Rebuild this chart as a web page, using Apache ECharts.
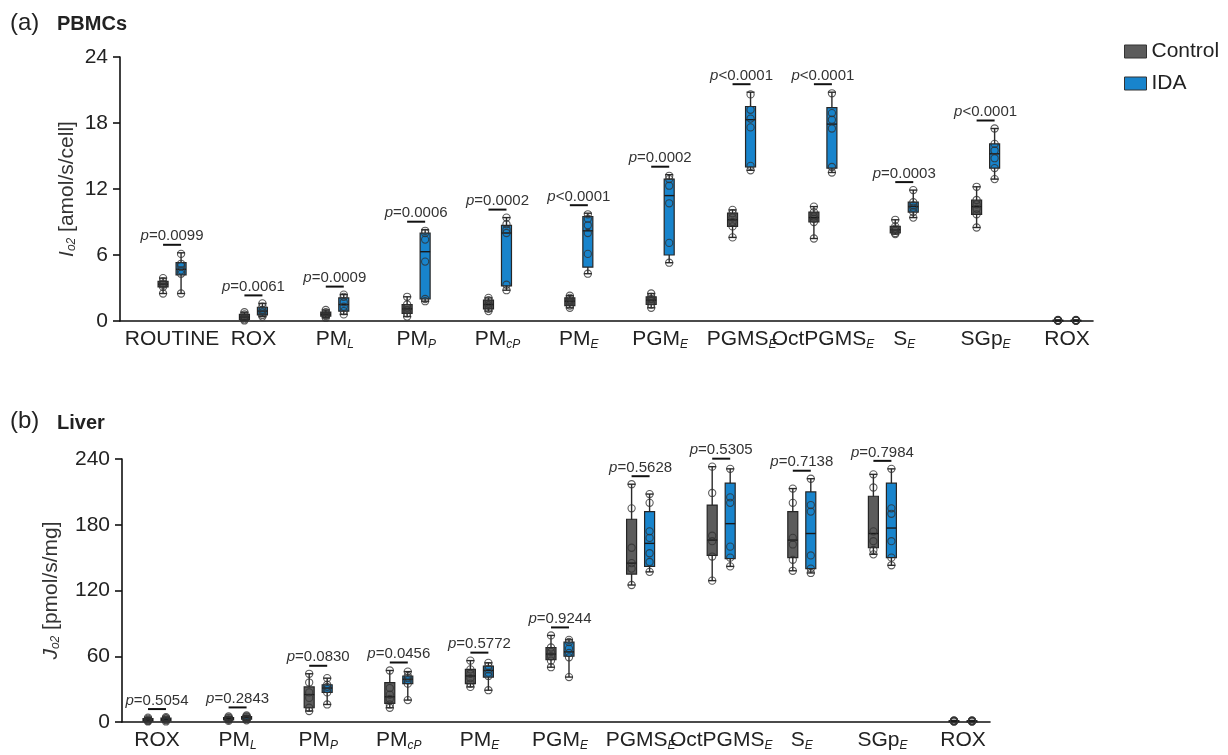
<!DOCTYPE html>
<html>
<head>
<meta charset="utf-8">
<script src="https://cdn.jsdelivr.net/npm/echarts@6/dist/echarts.min.js"></script>
<style>html,body{margin:0;padding:0;background:#fff}#c{width:1228px;height:755px}</style>
</head>
<body>
<div id="c"></div>
<script>
// ---------- (a) PBMCs ----------
const topCategories = ['ROUTINE','ROX','PM_L','PM_P','PM_cP','PM_E','PGM_E','PGMS_E','OctPGMS_E','S_E','SGp_E','ROX'];
// box stats: [min, q1, median, q3, max]
const topControlBox = [
  [2.5,3.1,3.35,3.6,3.9],[0.05,0.15,0.35,0.6,0.8],[0.3,0.45,0.6,0.8,1.0],[0.4,0.7,1.1,1.5,2.2],
  [0.9,1.1,1.5,1.9,2.1],[1.2,1.4,1.8,2.1,2.3],[1.2,1.5,1.9,2.2,2.5],[7.6,8.6,9.2,9.8,10.1],
  [7.5,9.0,9.4,9.9,10.4],[7.9,8.0,8.3,8.6,9.2],[8.5,9.7,10.4,11.0,12.2],[0.02,0.03,0.05,0.07,0.1]
];
const topIdaBox = [
  [2.5,4.2,4.7,5.3,6.2],[0.4,0.55,0.9,1.25,1.6],[0.6,0.9,1.5,2.1,2.4],[1.8,2.0,6.3,8.0,8.3],
  [2.8,3.2,8.0,8.7,9.4],[4.3,4.9,8.2,9.5,9.8],[5.3,6.0,11.4,12.9,13.3],[13.7,14.0,18.3,19.5,20.8],
  [13.5,13.9,17.9,19.4,20.8],[9.4,9.9,10.4,10.8,11.9],[12.9,13.9,15.2,16.1,17.5],[0.02,0.03,0.05,0.07,0.1]
];
const topControlPts = [
  [2.5,3.1,3.3,3.4,3.6,3.9],[0.05,0.15,0.3,0.4,0.6,0.8],[0.3,0.45,0.55,0.65,0.8,1.0],[0.4,0.7,1.0,1.2,1.5,2.2],
  [0.9,1.1,1.4,1.6,1.9,2.1],[1.2,1.4,1.7,1.9,2.1,2.3],[1.2,1.5,1.8,2.0,2.2,2.5],[7.6,8.6,9.0,9.4,9.8,10.1],
  [7.5,9.0,9.3,9.5,9.9,10.4],[7.9,8.0,8.2,8.4,8.6,9.2],[8.5,9.7,10.2,10.6,11.0,12.2],[0.02,0.03,0.05,0.06,0.08,0.1]
];
const topIdaPts = [
  [2.5,4.3,4.6,5.0,5.2,6.1],[0.4,0.55,0.8,1.0,1.3,1.6],[0.6,0.9,1.3,1.7,2.2,2.4],[1.8,2.0,5.4,7.4,8.0,8.2],
  [2.8,3.3,8.0,8.3,8.8,9.4],[4.3,6.1,8.0,8.7,9.3,9.7],[5.3,7.1,10.7,12.3,12.9,13.2],[13.7,14.1,17.6,18.4,19.2,20.6],
  [13.5,14.0,17.5,18.3,18.9,20.7],[9.4,9.9,10.3,10.5,10.8,11.9],[12.9,13.9,14.8,15.5,16.1,17.5],[0.02,0.03,0.05,0.06,0.08,0.1]
];
const topPValues = ['p=0.0099','p=0.0061','p=0.0009','p=0.0006','p=0.0002','p<0.0001','p=0.0002','p<0.0001','p<0.0001','p=0.0003','p<0.0001',''];
const topYTicks = [0, 6, 12, 18, 24];

// ---------- (b) Liver ----------
const bottomCategories = ['ROX','PM_L','PM_P','PM_cP','PM_E','PGM_E','PGMS_E','OctPGMS_E','S_E','SGp_E','ROX'];
const bottomControlBox = [
  [0.5,1,1.8,3,4],[1,2,3,4,5],[10,13,25,32,44],[13,17,23,36,47],[32,35,42,48,56],[50,57,62,68,79],
  [125,135,145,185,217],[129,152,166,198,233],[138,150,166,192,213],[153,159,172,206,226],[0.3,0.6,0.9,1.1,1.5]
];
const bottomIdaBox = [
  [0.5,1.2,2.5,3.5,4.5],[1.5,2.5,4,5,6],[16,27,31,34,40],[20,35,39,42,46],[29,41,47,51,54],[41,60,64,73,75],
  [137,142,163,192,208],[142,149,181,218,231],[136,140,172,210,222],[143,150,177,218,231],[0.3,0.6,0.9,1.1,1.5]
];
const bottomControlPts = [
  [0.5,1,1.5,2,3,4],[1,2,2.5,3.5,4,5],[10,13,22,27,36,44],[13,16,21,25,31,47],[32,35,40,44,48,56],[50,56,60,64,68,79],
  [125,140,145,159,195,217],[129,151,165,170,209,233],[138,148,162,168,200,213],[153,157,165,174,214,226],[0.3,0.5,0.8,1,1.2,1.5]
];
const bottomIdaPts = [
  [0.5,1.5,2,3,3.5,4.5],[1.5,2.5,3.5,4.5,5,6],[16,27,30,32,34,40],[20,35,38,40,42,46],[29,42,45,48,51,54],[41,59,63,67,73,75],
  [137,146,154,168,174,200,208],[142,150,160,200,205,231],[136,140,152,192,198,222],[143,150,165,190,195,231],[0.3,0.5,0.8,1,1.2,1.5]
];
const bottomPValues = ['p=0.5054','p=0.2843','p=0.0830','p=0.0456','p=0.5772','p=0.9244','p=0.5628','p=0.5305','p=0.7138','p=0.7984',''];
const bottomYTicks = [0, 60, 120, 180, 240];

const seriesNames = ['Control', 'IDA'];

// ---------- styling ----------
const FONT = 'Liberation Sans, Arial, sans-serif';
const COL = { Control: '#5c5c5c', IDA: '#1884cc' };
const INK = '#222';

const catRich = {
  m: { fontSize: 21, fontFamily: FONT, color: INK, lineHeight: 24 },
  s: { fontSize: 12, fontFamily: FONT, color: INK, fontStyle: 'italic', lineHeight: 8, verticalAlign: 'bottom' }
};
function catLabel(name) {
  const k = name.indexOf('_');
  if (k < 0) return '{m|' + name + '}';
  return '{m|' + name.slice(0, k) + '}{s|' + name.slice(k + 1) + '}';
}

function boxRender(boxArr, ptsArr, side, color) {
  return function (params, api) {
    const i = api.value(0);
    const c = api.coord([i, api.value(3)]);
    const x = c[0] + side * 9;
    const yMin = api.coord([i, api.value(1)])[1];
    const yQ1 = api.coord([i, api.value(2)])[1];
    const yMed = c[1];
    const yQ3 = api.coord([i, api.value(4)])[1];
    const yMax = api.coord([i, api.value(5)])[1];
    const w = 10;
    const children = [
      { type: 'line', shape: { x1: x, y1: yMax, x2: x, y2: yMin }, style: { stroke: '#2a2a2a', lineWidth: 1.4 } },
      { type: 'line', shape: { x1: x - 4, y1: yMax, x2: x + 4, y2: yMax }, style: { stroke: '#2a2a2a', lineWidth: 1.4 } },
      { type: 'line', shape: { x1: x - 4, y1: yMin, x2: x + 4, y2: yMin }, style: { stroke: '#2a2a2a', lineWidth: 1.4 } },
      { type: 'rect', shape: { x: x - w / 2, y: yQ3, width: w, height: Math.max(yQ1 - yQ3, 1) },
        style: { fill: color, stroke: '#262626', lineWidth: 1.2 } },
      { type: 'line', shape: { x1: x - w / 2, y1: yMed, x2: x + w / 2, y2: yMed }, style: { stroke: '#1a1a1a', lineWidth: 1.4 } }
    ];
    const pts = ptsArr[params.dataIndex];
    pts.forEach(function (v) {
      const p = api.coord([i, v]);
      children.push({ type: 'circle', shape: { cx: x, cy: p[1], r: 3.6 },
        style: { fill: 'none', stroke: 'rgba(50,50,50,0.8)', lineWidth: 1.1 } });
    });
    return { type: 'group', children: children };
  };
}

function annRender(ctrlBox, idaBox, pvals) {
  return function (params, api) {
    const i = params.dataIndex;
    const s = pvals[i];
    if (!s) return null;
    const top = Math.max(ctrlBox[i][4], idaBox[i][4]);
    const c = api.coord([i, top]);
    const yBar = c[1] - 8;
    return { type: 'group', children: [
      { type: 'line', shape: { x1: c[0] - 9, y1: yBar, x2: c[0] + 9, y2: yBar }, style: { stroke: '#111', lineWidth: 2 } },
      { type: 'text', style: {
          text: '{p|' + s.charAt(0) + '}{v|' + s.slice(1) + '}',
          x: c[0], y: yBar - 1, align: 'center', verticalAlign: 'bottom',
          rich: {
            p: { fontSize: 15, fontFamily: FONT, fontStyle: 'italic', fill: '#333', color: '#333' },
            v: { fontSize: 15, fontFamily: FONT, fill: '#333', color: '#333' }
          } } }
    ] };
  };
}

function boxData(boxArr) { return boxArr.map(function (b, i) { return [i].concat(b); }); }

function makeXAxis(gridIndex, cats, min, max) {
  return {
    type: 'value', gridIndex: gridIndex, min: min, max: max,
    axisLine: { show: true, onZero: false, lineStyle: { color: '#111', width: 1.6 } },
    axisTick: { show: false }, splitLine: { show: false },
    axisLabel: {
      customValues: cats.map(function (_, i) { return i; }),
      margin: 6, formatter: function (v) { return catLabel(cats[Math.round(v)] || ''); },
      rich: catRich
    }
  };
}
function makeYAxis(gridIndex, ticks, nameRich) {
  return {
    type: 'value', gridIndex: gridIndex, min: ticks[0], max: ticks[ticks.length - 1],
    interval: ticks[1] - ticks[0],
    axisLine: { show: true, onZero: false, lineStyle: { color: '#111', width: 1.6 } },
    axisTick: { show: true, length: 7, lineStyle: { color: '#111', width: 1.6 } },
    splitLine: { show: false },
    axisLabel: { fontSize: 21, fontFamily: FONT, color: INK, margin: 12 },
    name: nameRich.text, nameLocation: 'middle', nameRotate: 90, nameGap: nameRich.gap,
    nameMoveOverlap: false,
    nameTextStyle: { rich: nameRich.rich }
  };
}
const yNameRich = {
  m: { fontSize: 21, fontFamily: FONT, color: '#333' },
  i: { fontSize: 21, fontFamily: FONT, color: '#333', fontStyle: 'italic' },
  s: { fontSize: 12, fontFamily: FONT, color: '#333', fontStyle: 'italic', lineHeight: 8, verticalAlign: 'bottom' }
};

const option = {
  animation: false,
  backgroundColor: '#fff',
  legend: {
    orient: 'vertical', left: 1119, top: 36, itemWidth: 22, itemHeight: 13, itemGap: 11,
    textStyle: { fontSize: 21, fontFamily: FONT, color: INK },
    data: [
      { name: seriesNames[0], icon: 'rect', itemStyle: { color: COL.Control, borderColor: '#333', borderWidth: 1 } },
      { name: seriesNames[1], icon: 'rect', itemStyle: { color: COL.IDA, borderColor: '#333', borderWidth: 1 } }
    ],
    selectedMode: false
  },
  graphic: [
    { type: 'text', left: 10, top: 11, style: { text: '(a)', fontSize: 24, fontFamily: FONT, fill: '#222' } },
    { type: 'text', left: 57, top: 14, style: { text: 'PBMCs', fontSize: 20, fontWeight: 'bold', fontFamily: FONT, fill: '#222' } },
    { type: 'text', left: 10, top: 409, style: { text: '(b)', fontSize: 24, fontFamily: FONT, fill: '#222' } },
    { type: 'text', left: 57, top: 413, style: { text: 'Liver', fontSize: 20, fontWeight: 'bold', fontFamily: FONT, fill: '#222' } }
  ],
  grid: [
    { left: 120, top: 57, width: 973, height: 264 },
    { left: 122, top: 459, width: 868, height: 263 }
  ],
  xAxis: [
    makeXAxis(0, topCategories, -0.64, 11.32),
    makeXAxis(1, bottomCategories, -0.434, 10.335)
  ],
  yAxis: [
    makeYAxis(0, topYTicks, { text: '{i|I}{s|o2}{m| [amol/s/cell]}', gap: 42, rich: yNameRich }),
    makeYAxis(1, bottomYTicks, { text: '{i|J}{s|o2}{m| [pmol/s/mg]}', gap: 60, rich: yNameRich })
  ],
  series: [
    { type: 'custom', name: seriesNames[0], xAxisIndex: 0, yAxisIndex: 0, clip: false,
      itemStyle: { color: COL.Control },
      data: boxData(topControlBox), encode: { x: 0, y: [1, 2, 3, 4, 5] },
      renderItem: boxRender(topControlBox, topControlPts, -1, COL.Control) },
    { type: 'custom', name: seriesNames[1], xAxisIndex: 0, yAxisIndex: 0, clip: false,
      itemStyle: { color: COL.IDA },
      data: boxData(topIdaBox), encode: { x: 0, y: [1, 2, 3, 4, 5] },
      renderItem: boxRender(topIdaBox, topIdaPts, 1, COL.IDA) },
    { type: 'custom', name: 'ann-a', xAxisIndex: 0, yAxisIndex: 0, clip: false, silent: true,
      data: topPValues.map(function (_, i) { return [i, 0]; }), encode: { x: 0, y: 1 },
      renderItem: annRender(topControlBox, topIdaBox, topPValues) },
    { type: 'custom', name: seriesNames[0], xAxisIndex: 1, yAxisIndex: 1, clip: false,
      itemStyle: { color: COL.Control },
      data: boxData(bottomControlBox), encode: { x: 0, y: [1, 2, 3, 4, 5] },
      renderItem: boxRender(bottomControlBox, bottomControlPts, -1, COL.Control) },
    { type: 'custom', name: seriesNames[1], xAxisIndex: 1, yAxisIndex: 1, clip: false,
      itemStyle: { color: COL.IDA },
      data: boxData(bottomIdaBox), encode: { x: 0, y: [1, 2, 3, 4, 5] },
      renderItem: boxRender(bottomIdaBox, bottomIdaPts, 1, COL.IDA) },
    { type: 'custom', name: 'ann-b', xAxisIndex: 1, yAxisIndex: 1, clip: false, silent: true,
      data: bottomPValues.map(function (_, i) { return [i, 0]; }), encode: { x: 0, y: 1 },
      renderItem: annRender(bottomControlBox, bottomIdaBox, bottomPValues) }
  ]
};

const chart = echarts.init(document.getElementById('c'), null, { renderer: 'canvas' });
chart.setOption(option);
</script>
</body>
</html>
